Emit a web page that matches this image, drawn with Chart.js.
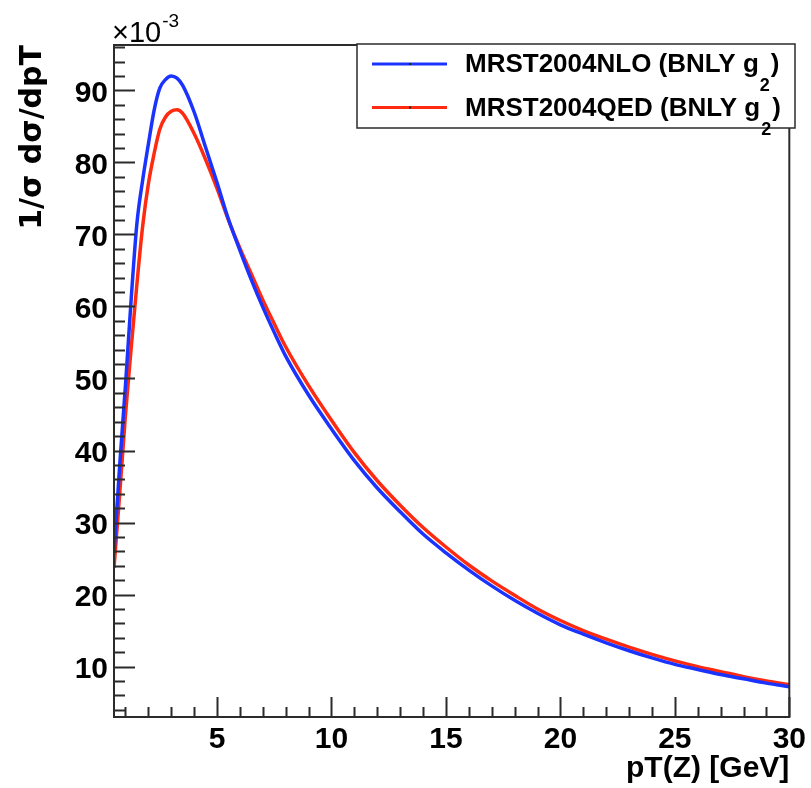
<!DOCTYPE html>
<html>
<head>
<meta charset="utf-8">
<script src="https://cdn.jsdelivr.net/npm/chart.js@4.4.1/dist/chart.umd.min.js"></script>
<style>
  html, body { margin: 0; padding: 0; background: #fff; }
  canvas { display: block; }
</style>
</head>
<body>
<canvas id="ptChart" width="811" height="788"></canvas>
<script>
// ===== data (values in units of 10^-3) =====
const ptValues = [0.5, 0.75, 1.0, 1.25, 1.5, 1.75, 2.0, 2.25, 2.5, 2.75, 3.0, 3.25, 3.5, 4.0, 4.5,
  5.0, 5.5, 6.0, 6.5, 7, 7.5, 8, 9, 10, 11, 12, 13, 14, 15, 16, 17, 18, 19, 20,
  21, 22, 23, 24, 25, 26, 27, 28, 29, 30];

const nloValues = [25.7, 38.0, 49.0, 61.0, 71.5, 77.5, 82.5, 87.2, 90.3, 91.5, 92.0, 91.7, 90.7, 87.0, 82.1,
  77.2, 72.1, 67.8, 63.7, 59.9, 56.4, 53.1, 47.7, 43.0, 38.6, 34.8, 31.5, 28.4, 25.8, 23.4, 21.2, 19.2, 17.4, 15.8,
  14.5, 13.3, 12.2, 11.2, 10.3, 9.6, 8.9, 8.3, 7.7, 7.2];

const qedValues = [23.7, 34.0, 44.9, 54.2, 63.1, 71.1, 77.0, 81.2, 84.6, 86.3, 87.1, 87.3, 86.8, 84.0, 80.4,
  76.4, 72.0, 68.1, 64.5, 60.9, 57.6, 54.4, 49.0, 44.2, 39.7, 35.8, 32.4, 29.3, 26.6, 24.1, 21.9, 19.9, 18.0, 16.4,
  15.0, 13.8, 12.7, 11.7, 10.8, 10.0, 9.3, 8.6, 8.0, 7.5];

const seriesLabels = ["MRST2004NLO (BNLY g", "MRST2004QED (BNLY g"];
const seriesColors = ["#1a33ff", "#ff2a0f"];

const xMajorTicks = [5, 10, 15, 20, 25, 30];
const xMinorTicks = [1, 2, 3, 4, 6, 7, 8, 9, 11, 12, 13, 14, 16, 17, 18, 19, 21, 22, 23, 24, 26, 27, 28, 29];
const yMajorTicks = [10, 20, 30, 40, 50, 60, 70, 80, 90];
const yMinorTicks = [4, 6, 8, 12, 14, 16, 18, 22, 24, 26, 28, 32, 34, 36, 38, 42, 44, 46, 48,
  52, 54, 56, 58, 62, 64, 66, 68, 72, 74, 76, 78, 82, 84, 86, 88, 92, 94, 96];

const toPoints = vals => ptValues.map((x, i) => ({ x: x, y: vals[i] }));

// ===== frame, inward ticks, exponent, legend (ROOT style) =====
const rootFrame = {
  id: "rootFrame",
  afterDraw(chart) {
    const { ctx, chartArea: a, scales: { x, y } } = chart;
    ctx.save();
    ctx.strokeStyle = "#2b2b2b";
    ctx.lineWidth = 2;
    ctx.strokeRect(a.left, a.top, a.right - a.left, a.bottom - a.top);

    ctx.beginPath();
    yMajorTicks.forEach(v => {
      const py = Math.round(y.getPixelForValue(v)) + 0.5;
      ctx.moveTo(a.left, py); ctx.lineTo(a.left + 21, py);
    });
    yMinorTicks.forEach(v => {
      const py = Math.round(y.getPixelForValue(v)) + 0.5;
      ctx.moveTo(a.left, py); ctx.lineTo(a.left + 11, py);
    });
    xMajorTicks.forEach(v => {
      const px = Math.round(x.getPixelForValue(v)) + 0.5;
      ctx.moveTo(px, a.bottom); ctx.lineTo(px, a.bottom - 20);
    });
    xMinorTicks.forEach(v => {
      const px = Math.round(x.getPixelForValue(v)) + 0.5;
      ctx.moveTo(px, a.bottom); ctx.lineTo(px, a.bottom - 10);
    });
    ctx.stroke();

    // exponent label
    ctx.fillStyle = "#000";
    ctx.textBaseline = "alphabetic";
    ctx.textAlign = "left";
    ctx.font = "29px 'Liberation Sans'";
    ctx.fillText("\u00d710", a.left - 2, 42);
    const w = ctx.measureText("\u00d710").width;
    ctx.font = "19px 'Liberation Sans'";
    ctx.fillText("-3", a.left - 1 + w, 27);

    // legend box
    const bx = 357, by = 44, bw = 438, bh = 84;
    ctx.fillStyle = "#fff";
    ctx.fillRect(bx, by, bw, bh);
    ctx.strokeStyle = "#2b2b2b";
    ctx.lineWidth = 1.5;
    ctx.strokeRect(bx, by, bw, bh);

    const rows = [64, 107.5];
    rows.forEach((ry, i) => {
      ctx.strokeStyle = seriesColors[i];
      ctx.lineWidth = 3;
      ctx.beginPath();
      ctx.moveTo(372, ry); ctx.lineTo(447, ry);
      ctx.stroke();
      ctx.fillStyle = "#222";
      ctx.fillRect(409, ry - 1, 2, 2);

      ctx.fillStyle = "#000";
      ctx.font = "bold 26px 'Liberation Sans'";
      ctx.fillText(seriesLabels[i], 465, ry + 8);
      let tx = 465 + ctx.measureText(seriesLabels[i]).width + 1;
      ctx.font = "bold 18px 'Liberation Sans'";
      ctx.fillText("2", tx, ry + 27);
      tx += ctx.measureText("2").width + 1;
      ctx.font = "bold 26px 'Liberation Sans'";
      ctx.fillText(")", tx, ry + 8);
    });
    ctx.restore();
  }
};

new Chart(document.getElementById("ptChart"), {
  type: "line",
  data: {
    datasets: [
      {
        label: "MRST2004QED (BNLY g2)",
        data: toPoints(qedValues),
        borderColor: seriesColors[1],
        borderWidth: 3.5,
        pointRadius: 0,
        cubicInterpolationMode: "monotone",
        order: 2
      },
      {
        label: "MRST2004NLO (BNLY g2)",
        data: toPoints(nloValues),
        borderColor: seriesColors[0],
        borderWidth: 3.5,
        pointRadius: 0,
        cubicInterpolationMode: "monotone",
        order: 1
      }
    ]
  },
  options: {
    responsive: false,
    animation: false,
    devicePixelRatio: 1,
    layout: { padding: { left: 0, top: 45, right: 18, bottom: 0 } },
    plugins: {
      legend: { display: false },
      tooltip: { enabled: false }
    },
    scales: {
      x: {
        type: "linear",
        min: 0.5,
        max: 30,
        grid: { display: false, drawTicks: false },
        border: { display: false },
        afterBuildTicks: s => { s.ticks = xMajorTicks.map(v => ({ value: v })); },
        afterFit: s => { s.height = 71; },
        ticks: {
          color: "#000",
          padding: 5,
          maxRotation: 0,
          font: { family: "'Liberation Sans'", size: 30, weight: "bold" }
        },
        title: {
          display: true,
          text: "pT(Z) [GeV]",
          align: "end",
          color: "#000",
          padding: { top: 0, bottom: 1 },
          font: { family: "'Liberation Sans'", size: 30, weight: "bold" }
        }
      },
      y: {
        type: "linear",
        min: 3.0,
        max: 96.3,
        grid: { display: false, drawTicks: false },
        border: { display: false },
        afterBuildTicks: s => { s.ticks = yMajorTicks.map(v => ({ value: v })); },
        afterFit: s => { s.width = 114; },
        ticks: {
          color: "#000",
          padding: 6,
          labelOffset: 3,
          font: { family: "'Liberation Sans'", size: 30, weight: "bold" }
        },
        title: {
          display: true,
          text: "1/\u03c3 d\u03c3/dpT",
          align: "end",
          color: "#000",
          padding: { top: 15, bottom: 0 },
          font: { family: "'DejaVu Sans'", size: 30, weight: "bold" }
        }
      }
    }
  },
  plugins: [rootFrame]
});
</script>
</body>
</html>
